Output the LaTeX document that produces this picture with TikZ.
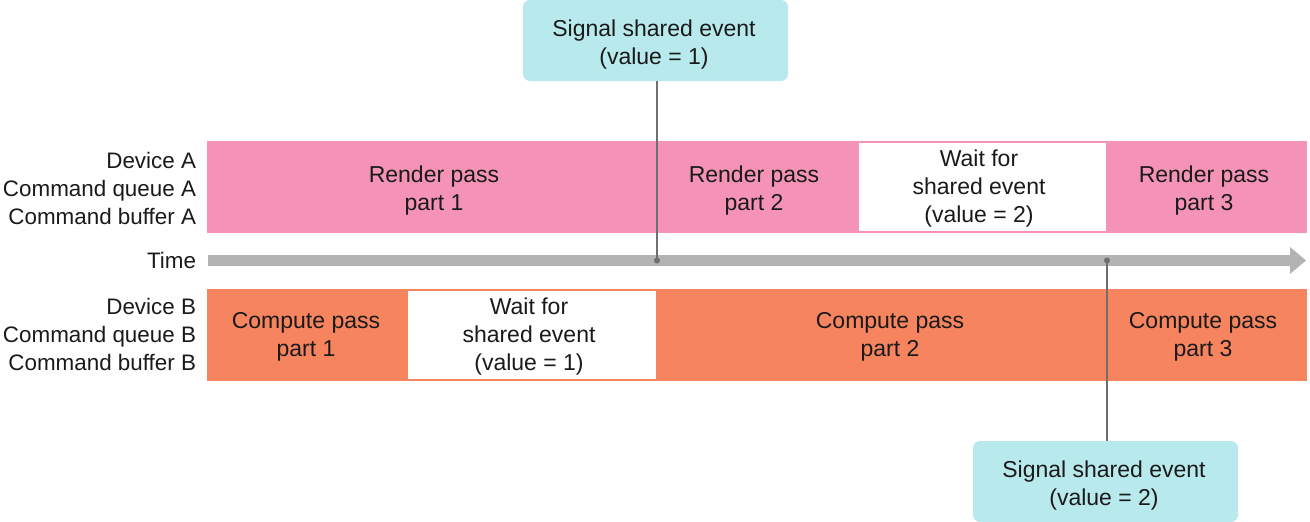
\documentclass[tikz,border=0pt]{standalone}
\usepackage{fontspec}
\setmainfont{Liberation Sans}
\definecolor{rpink}{HTML}{F593B6}
\definecolor{corange}{HTML}{F5845F}
\definecolor{scyan}{HTML}{B8E9EC}
\definecolor{tgray}{HTML}{B3B3B3}
\definecolor{lgray}{HTML}{6E6E6E}
\definecolor{txt}{HTML}{1A1A1A}
\begin{document}
\begin{tikzpicture}[x=1pt,y=-1pt,
  every node/.style={font=\fontsize{23}{28}\selectfont,text=txt,align=center,inner sep=0pt,outer sep=0pt},
  seg/.style={draw=none,minimum height=92pt},
  waitbox/.style={fill=white,minimum height=88pt},
  sigbox/.style={fill=scyan,rounded corners=7pt,minimum width=265pt,minimum height=81pt},
  lab/.style={anchor=east,align=right,font=\fontsize{22.4}{28}\selectfont},
  conn/.style={draw=lgray,line width=1.6pt},
  dotc/.style={fill=lgray,circle,minimum size=6pt}]
\useasboundingbox (0,0) rectangle (1310,522);
% row A
\node[seg,fill=rpink,minimum width=450pt] (ra1) at (432,187) {};
\node (ta1) at (434,191) {Render pass\\part 1};
\node[seg,fill=rpink,minimum width=200pt] (ra2) at (757,187) {};
\node (ta2) at (754,191) {Render pass\\part 2};
\node[seg,fill=rpink,minimum width=250pt] (raw) at (982,187) {};
\node[waitbox,minimum width=247pt] (raww) at (982,187) {};
\node (taw) at (979,189) {Wait for\\shared event\\(value = 2)};
\node[seg,fill=rpink,minimum width=200pt] (ra3) at (1207,187) {};
\node (ta3) at (1204,191) {Render pass\\part 3};
% row B
\node[seg,fill=corange,minimum width=199pt] (cb1) at (306.5,335) {};
\node (tb1) at (306,337) {Compute pass\\part 1};
\node[seg,fill=corange,minimum width=251pt] (cbw) at (531.5,335) {};
\node[waitbox,minimum width=248pt] (cbww) at (531.5,335) {};
\node (tbw) at (529,337) {Wait for\\shared event\\(value = 1)};
\node[seg,fill=corange,minimum width=450pt] (cb2) at (882,335) {};
\node (tb2) at (890,337) {Compute pass\\part 2};
\node[seg,fill=corange,minimum width=200pt] (cb3) at (1207,335) {};
\node (tb3) at (1203,337) {Compute pass\\part 3};
% time axis
\draw[draw=none,fill=tgray] (208,255) rectangle (1290,266);
\fill[tgray] (1290,247) -- (1306,260.5) -- (1290,274) -- cycle;
% labels
\node[lab] (la) at (196,188) {Device A\\Command queue A\\Command buffer A};
\node[lab] (lt) at (196,260.5) {Time};
\node[lab] (lb) at (196,334) {Device B\\Command queue B\\Command buffer B};
% signal boxes
\node[sigbox] (s1) at (655.5,40.5) {};
\node (ts1) at (654,45) {Signal shared event\\(value = 1)};
\node[sigbox] (s2) at (1105.5,481.5) {};
\node (ts2) at (1104,486) {Signal shared event\\(value = 2)};
\node[dotc] (d1) at (657,260.5) {};
\node[dotc] (d2) at (1107,260.5) {};
\draw[conn] (s1.south -| d1) -- (d1.center);
\draw[conn] (d2.center) -- (s2.north -| d2);
\end{tikzpicture}
\end{document}
